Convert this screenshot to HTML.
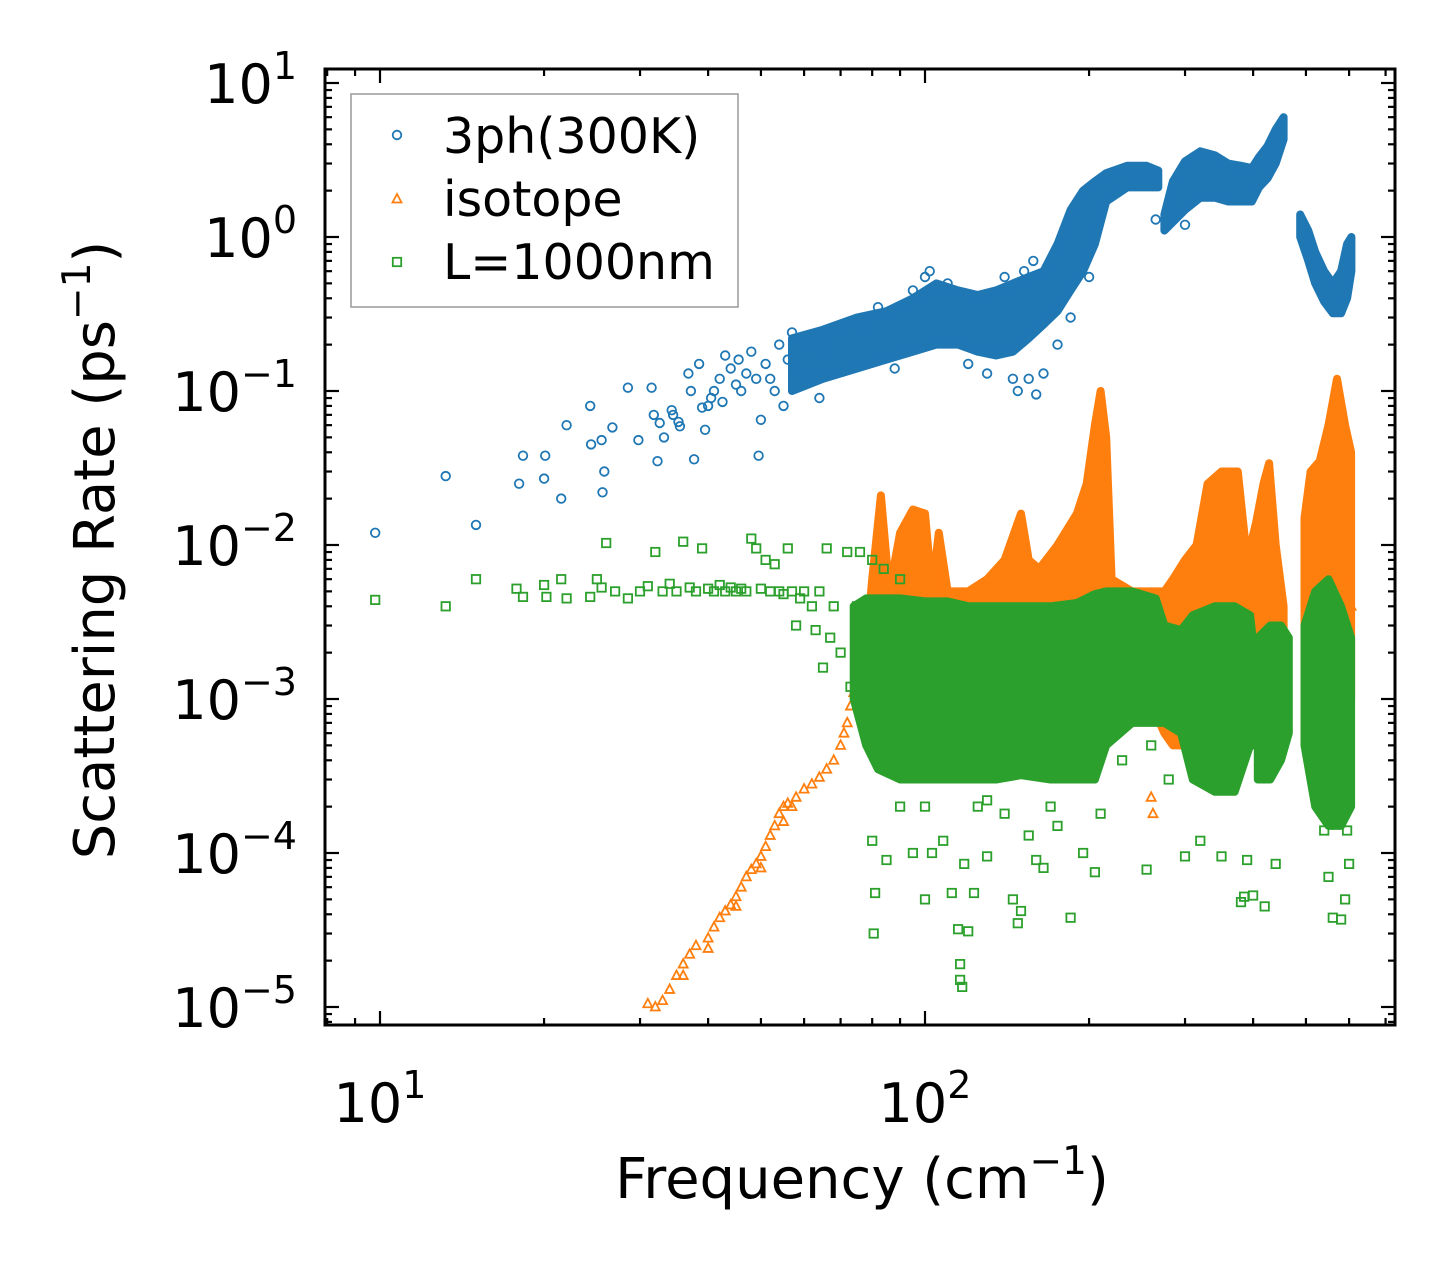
<!DOCTYPE html>
<html><head><meta charset="utf-8">
<style>
html,body{margin:0;padding:0;background:#fff;}
svg{display:block;font-family:"DejaVu Sans","Liberation Sans",sans-serif;}
</style></head>
<body>
<svg id="chart" width="1455" height="1275" viewBox="0 0 1455 1275" xmlns="http://www.w3.org/2000/svg">
<rect x="0" y="0" width="1455" height="1275" fill="#fff"/>
<g id="bands"></g>
<g id="pts"></g>
<g id="axes"></g>
</svg>
<script>
// ---------- data ----------
const xTicks = [10, 100];
const yTicks = [1e-5, 1e-4, 1e-3, 1e-2, 1e-1, 1, 10];
const yTickExp = ["−5","−4","−3","−2","−1","0","1"];
const xTickExp = ["1","2"];

const bluePts = [[9.8,0.012],[13.2,0.028],[15,0.0135],[18,0.025],[18.3,0.038],[20,0.027],[20.1,0.038],[21.5,0.02],[22,0.06],[24.3,0.08],[24.4,0.045],[25.6,0.022],[25.8,0.03],[25.5,0.048],[26.7,0.058],[28.5,0.105],[29.8,0.048],[31.5,0.105],[31.8,0.07],[32.3,0.035],[32.6,0.062],[33.2,0.05],[34.3,0.075],[34.5,0.07],[35.3,0.063],[35.5,0.059],[36.8,0.13],[37.2,0.1],[37.7,0.036],[38.5,0.15],[39,0.078],[39.5,0.056],[40,0.08],[40.5,0.09],[41,0.1],[42,0.12],[42.5,0.085],[43,0.17],[44,0.14],[45,0.11],[45.5,0.16],[46,0.1],[47,0.13],[48,0.18],[49,0.12],[49.5,0.038],[50,0.065],[51,0.15],[52,0.12],[53,0.1],[54,0.2],[55,0.08],[56,0.16],[57,0.24],[58,0.14],[60,0.13],[62,0.2],[63,0.23],[64,0.09],[65,0.18],[66,0.22],[68,0.25],[72,0.27],[78,0.26],[82,0.35],[88,0.14],[95,0.45],[100,0.55],[102,0.6],[110,0.5],[120,0.15],[130,0.13],[140,0.55],[145,0.12],[148,0.1],[152,0.6],[155,0.12],[158,0.7],[160,0.095],[165,0.13],[175,0.2],[185,0.3],[200,0.55],[265,1.3],[300,1.2]];
const blueBands = [
 [[57,0.1,0.22],[65,0.12,0.25],[75,0.14,0.3],[85,0.16,0.33],[95,0.18,0.4],[105,0.2,0.5],[115,0.2,0.45],[125,0.18,0.42],[135,0.17,0.45],[145,0.18,0.5],[155,0.22,0.55],[165,0.27,0.6],[175,0.33,0.9],[185,0.45,1.5],[195,0.6,2.0],[205,0.9,2.3],[215,1.7,2.6],[235,2.1,2.9],[255,2.1,2.9],[268,2.1,2.7]],
 [[275,1.1,1.4],[285,1.25,2.3],[300,1.5,3.1],[320,1.8,3.6],[340,1.8,3.4],[360,1.7,3.0],[380,1.7,2.9],[398,1.7,2.8],[410,2.1,3.3],[425,2.4,3.9],[440,3.0,5],[455,4.3,6]],
 [[488,1.0,1.4],[505,0.7,1.1],[520,0.5,0.8],[540,0.38,0.6],[560,0.32,0.5],[580,0.32,0.6],[595,0.4,0.9],[606,0.6,1.0]]
];

const orangePts = [[31,1.05e-5],[32,1e-5],[33,1.1e-5],[34,1.3e-5],[35,1.6e-5],[36,1.9e-5],[36,1.6e-5],[37,2.2e-5],[38,2.5e-5],[40,2.8e-5],[40,2.4e-5],[41,3.3e-5],[42,3.8e-5],[43,4.2e-5],[44,4.6e-5],[45,5.2e-5],[45,4.5e-5],[46,6e-5],[47,7e-5],[48,7.8e-5],[49,8.5e-5],[50,9.5e-5],[50,8e-5],[51,1.1e-4],[52,1.3e-4],[53,1.5e-4],[54,1.8e-4],[55,2e-4],[55,1.6e-4],[56,2.1e-4],[57,2e-4],[58,2.3e-4],[60,2.6e-4],[62,2.8e-4],[64,3.1e-4],[66,3.5e-4],[68,4e-4],[70,5e-4],[71,6e-4],[72,7e-4],[73,9e-4],[74,1.1e-3],[75,1.4e-3],[76,1.8e-3],[78,2.2e-3],[80,1.3e-3],[260,2.3e-4],[262,1.8e-4],[600,6e-3],[605,4e-3]];
const orangeBands = [
 [[78,1.5e-3,2.2e-3],[80,8e-4,6e-3],[83,5e-4,2.1e-2],[86,5e-4,5e-3],[90,5e-4,1.2e-2],[95,5e-4,1.7e-2],[100,5e-4,1.6e-2],[103,5e-4,5e-3],[106,5e-4,1.2e-2],[110,5e-4,5e-3],[120,5e-4,5e-3],[130,5e-4,6e-3],[140,6e-4,8e-3],[150,6e-4,1.6e-2],[155,6e-4,8e-3],[162,6e-4,7e-3],[175,7e-4,1e-2],[190,7e-4,1.6e-2],[198,7e-4,2.5e-2],[205,8e-4,6e-2],[210,8e-4,0.1],[215,8e-4,0.05],[220,8e-4,6e-3],[240,8e-4,5e-3],[265,8e-4,5e-3],[275,6e-4,5e-3],[285,5e-4,6e-3],[300,5e-4,8e-3],[315,6e-4,1e-2],[330,8e-4,2.5e-2],[350,8e-4,3e-2],[375,8e-4,3e-2],[390,8e-4,8e-3],[405,8e-4,1.4e-2],[418,8e-4,2.5e-2],[428,8e-4,3.4e-2],[440,8e-4,1e-2],[455,1e-3,4e-3]],
 [[497,1e-3,1.5e-2],[510,1e-3,3e-2],[530,1e-3,3.5e-2],[550,1e-3,0.06],[570,1e-3,0.12],[590,1e-3,0.06],[605,1e-3,0.04]]
];

const greenPts = [[9.8,4.4e-3],[13.2,4e-3],[15,6e-3],[17.8,5.2e-3],[18.3,4.6e-3],[20,5.5e-3],[20.2,4.6e-3],[21.5,6e-3],[22,4.5e-3],[24.3,4.6e-3],[25,6e-3],[25.5,5.3e-3],[26,1.03e-2],[27,5e-3],[28.5,4.5e-3],[30,5e-3],[31,5.4e-3],[32,9e-3],[33,5e-3],[34,5.6e-3],[35,5e-3],[36,1.05e-2],[37,5.3e-3],[38,5e-3],[39,9.5e-3],[40,5.2e-3],[41,5e-3],[42,5.5e-3],[43,5e-3],[44,5.3e-3],[45,5e-3],[46,5.2e-3],[47,5e-3],[48,1.1e-2],[49,9.5e-3],[50,5.2e-3],[51,8e-3],[52,5e-3],[53,7.5e-3],[54,5e-3],[55,4.8e-3],[56,9.5e-3],[57,5e-3],[58,3e-3],[59,4.5e-3],[60,5e-3],[62,4e-3],[63,2.8e-3],[64,5e-3],[65,1.6e-3],[66,9.5e-3],[67,2.5e-3],[68,4e-3],[70,2e-3],[72,9e-3],[73,1.2e-3],[75,4e-3],[76,9e-3],[78,2.5e-3],[80,8e-3],[84,7e-3],[90,6e-3],
 [80,1.2e-4],[81,5.5e-5],[80.5,3e-5],[85,9e-5],[90,2e-4],[95,1e-4],[100,5e-5],[103,1e-4],[108,1.2e-4],[112,5.5e-5],[115,3.2e-5],[116,1.9e-5],[116,1.5e-5],[117,1.35e-5],[118,8.5e-5],[120,3.1e-5],[123,5.5e-5],[125,2e-4],[130,9.5e-5],[140,1.8e-4],[145,5e-5],[148,3.5e-5],[150,4.2e-5],[155,1.3e-4],[160,9e-5],[165,8e-5],[175,1.5e-4],[185,3.8e-5],[195,1e-4],[205,7.5e-5],[210,1.8e-4],[255,7.8e-5],[300,9.5e-5],[320,1.2e-4],[350,9.5e-5],[380,4.8e-5],[385,5.2e-5],[390,9e-5],[400,5.3e-5],[420,4.5e-5],[440,8.5e-5],[540,1.4e-4],[550,7e-5],[560,3.8e-5],[580,3.7e-5],[590,5e-5],[595,1.4e-4],[600,8.5e-5],[100,2e-4],[130,2.2e-4],[170,2e-4],[230,4e-4],[260,5e-4],[280,3e-4]];
const greenBands = [
 [[74,1e-3,4e-3],[78,5e-4,4.5e-3],[82,3.5e-4,4.5e-3],[90,3e-4,4.5e-3],[100,3e-4,4.3e-3],[110,3e-4,4.3e-3],[120,3e-4,4e-3],[135,3e-4,4e-3],[150,3.2e-4,4e-3],[170,3e-4,4e-3],[190,3e-4,4.2e-3],[205,3e-4,4.8e-3],[215,5e-4,5e-3],[240,7e-4,5e-3],[265,7e-4,4.5e-3],[275,7e-4,3e-3],[295,6e-4,2.8e-3],[310,3e-4,3.5e-3],[340,2.5e-4,4e-3],[370,2.5e-4,4e-3],[395,5e-4,3.5e-3],[402,5e-4,2e-3]],
 [[408,3e-4,2.5e-3],[430,3e-4,3e-3],[450,4e-4,3e-3],[465,6e-4,2.5e-3]],
 [[497,5e-4,3e-3],[520,2e-4,5e-3],[550,1.5e-4,6e-3],[580,1.5e-4,4e-3],[605,2e-4,2.5e-3]]
];

// ---------- axes ----------
const L=325, R=1395, T=69, B=1025;
const X = f => 380 + 545*(Math.log10(f) - 1);
const Y = v => 83 + 154*(1 - Math.log10(v));
const NS = "http://www.w3.org/2000/svg";
function mk(tag, attrs, parent){ const e=document.createElementNS(NS,tag); for(const k in attrs) e.setAttribute(k,attrs[k]); parent.appendChild(e); return e; }

const C = {blue:"#1f77b4", orange:"#ff7f0e", green:"#2ca02c"};
const bandsG = document.getElementById('bands');
const axesG = document.getElementById('axes');

function clip(){ return {"clip-path":"url(#plotclip)"}; }
const defs = mk('defs',{},document.getElementById('chart'));
const cp = mk('clipPath',{id:'plotclip'},defs);
mk('rect',{x:L,y:T,width:R-L,height:B-T},cp);

function drawBands(bands, color, name, layer){
  bands.forEach((seg,i)=>{
    const top = seg.map(d=>X(d[0]).toFixed(1)+","+Y(d[2]).toFixed(1));
    const bot = seg.slice().reverse().map(d=>X(d[0]).toFixed(1)+","+Y(d[1]).toFixed(1));
    const p = mk('polygon',{points: top.concat(bot).join(" "), fill:color, stroke:color, "stroke-width":8, "stroke-linejoin":"round"}, layer);
    
    
  });
}
function drawPts(pts, color, shape, name, layer){
  const g = mk('g',{fill:"none", stroke:color, "stroke-width":1.8}, layer);
  
  
  pts.forEach(d=>{
    const x=X(d[0]), y=Y(d[1]); let e;
    if(shape==='circle') e=mk('circle',{cx:x.toFixed(1),cy:y.toFixed(1),r:4.3},g);
    else if(shape==='tri') e=mk('polygon',{points:`${x},${y-5} ${x-4.5},${y+3.5} ${x+4.5},${y+3.5}`},g);
    else e=mk('rect',{x:(x-4.2).toFixed(1),y:(y-4.2).toFixed(1),width:8.4,height:8.4},g);
    
    
  });
}
const layer1 = mk('g', clip(), bandsG), layer2 = mk('g', clip(), bandsG), layer3 = mk('g', clip(), bandsG);
drawBands(blueBands, C.blue, 'blue', layer1); drawPts(bluePts, C.blue, 'circle', 'blue', layer1);
drawBands(orangeBands, C.orange, 'orange', layer2); drawPts(orangePts, C.orange, 'tri', 'orange', layer2);
drawBands(greenBands, C.green, 'green', layer3); drawPts(greenPts, C.green, 'square', 'green', layer3);

const frame = mk('rect',{x:L,y:T,width:R-L,height:B-T,fill:"none",stroke:"#000","stroke-width":3},axesG);


const tk = mk('g',{stroke:"#000","stroke-width":2.2},axesG);


for(let e=-6;e<=1;e++){
  for(let m=1;m<=9;m++){
    const v=m*Math.pow(10,e); const y=Y(v);
    if(y<T-0.5||y>B+0.5) continue;
    const len = m===1?14:7;
    mk('line',{x1:L,y1:y,x2:L+len,y2:y},tk); mk('line',{x1:R,y1:y,x2:R-len,y2:y},tk);
  }
}
for(let e=0;e<=2;e++){
  for(let m=1;m<=9;m++){
    const f=m*Math.pow(10,e); const x=X(f);
    if(x<L-0.5||x>R+0.5) continue;
    const len = m===1?14:7;
    mk('line',{x1:x,y1:B,x2:x,y2:B-len},tk); mk('line',{x1:x,y1:T,x2:x,y2:T+len},tk);
  }
}
yTicks.forEach((v,i)=>{
  const t = mk('text',{x:297,y:Y(v)+20,"text-anchor":"end","font-size":54,fill:"#000"},axesG);
  
  
  t.appendChild(document.createTextNode("10"));
  const s = mk('tspan',{dy:-24,"font-size":38},t); s.textContent = yTickExp[i];
});
xTicks.forEach((f,i)=>{
  const t = mk('text',{x:X(f),y:1122,"text-anchor":"middle","font-size":54,fill:"#000"},axesG);
  
  
  t.appendChild(document.createTextNode("10"));
  const s = mk('tspan',{dy:-24,"font-size":38},t); s.textContent = xTickExp[i];
});
</script>
<svg style="position:absolute;left:0;top:0" width="1455" height="1275">
  <text x="862" y="1198" text-anchor="middle" font-size="56" font-family="DejaVu Sans, Liberation Sans, sans-serif">Frequency (cm<tspan dy="-24" font-size="39">−1</tspan><tspan dy="24">)</tspan></text>
  <text transform="translate(114,550) rotate(-90)" text-anchor="middle" font-size="56" font-family="DejaVu Sans, Liberation Sans, sans-serif">Scattering Rate (ps<tspan dy="-24" font-size="39">−1</tspan><tspan dy="24">)</tspan></text>
  <g font-family="DejaVu Sans, Liberation Sans, sans-serif" font-size="49">
    <rect x="351" y="94" width="387" height="213" fill="#fff" stroke="#999" stroke-width="1.5"/>
    <circle cx="397" cy="135" r="4.3" fill="none" stroke="#1f77b4" stroke-width="1.8"/>
    <text x="443" y="153">3ph(300K)</text>
    <polygon points="397,194 392.5,202.5 401.5,202.5" fill="none" stroke="#ff7f0e" stroke-width="1.8"/>
    <text x="443" y="216">isotope</text>
    <rect x="392.8" y="257.8" width="8.4" height="8.4" fill="none" stroke="#2ca02c" stroke-width="1.8"/>
    <text x="443" y="279">L=1000nm</text>
  </g>
</svg>
</body></html>
